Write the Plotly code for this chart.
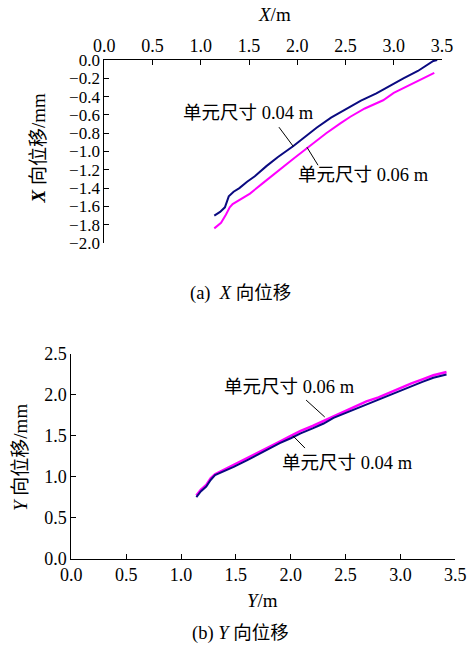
import plotly.graph_objects as go

# ---- data: (a) X displacement ----
ax_x_004 = [1.14, 1.20, 1.25, 1.27, 1.29, 1.34, 1.40, 1.48, 1.56, 1.68, 1.80, 1.96, 2.08, 2.20, 2.35, 2.51, 2.66, 2.82, 2.96, 3.10, 3.25, 3.41, 3.45]
ax_y_004 = [-1.70, -1.66, -1.61, -1.56, -1.49, -1.44, -1.40, -1.33, -1.27, -1.16, -1.06, -0.94, -0.84, -0.74, -0.63, -0.53, -0.445, -0.365, -0.28, -0.20, -0.12, -0.01, 0.0]
ax_x_006 = [1.14, 1.21, 1.26, 1.30, 1.33, 1.40, 1.51, 1.65, 1.79, 1.96, 2.13, 2.30, 2.45, 2.55, 2.70, 2.89, 3.00, 3.13, 3.28, 3.42]
ax_y_006 = [-1.84, -1.78, -1.69, -1.61, -1.575, -1.53, -1.46, -1.34, -1.22, -1.08, -0.94, -0.80, -0.69, -0.62, -0.53, -0.44, -0.36, -0.29, -0.21, -0.14]

# ---- data: (b) Y displacement ----
by_x = [1.14, 1.18, 1.23, 1.27, 1.31, 1.40, 1.48, 1.60, 1.70, 1.78, 1.90, 2.00, 2.09, 2.20, 2.30, 2.39, 2.50, 2.60, 2.69, 2.80, 2.90, 3.00, 3.10, 3.20, 3.30, 3.42]
by_y_004 = [0.75, 0.82, 0.88, 0.96, 1.02, 1.07, 1.12, 1.20, 1.27, 1.33, 1.41, 1.47, 1.53, 1.59, 1.65, 1.72, 1.78, 1.84, 1.89, 1.95, 2.00, 2.05, 2.11, 2.16, 2.21, 2.25]
by_y_006 = [0.77, 0.84, 0.90, 0.98, 1.03, 1.09, 1.14, 1.22, 1.29, 1.35, 1.43, 1.50, 1.56, 1.62, 1.68, 1.74, 1.80, 1.86, 1.92, 1.97, 2.03, 2.08, 2.14, 2.19, 2.24, 2.28]

x_ticks = [0.0, 0.5, 1.0, 1.5, 2.0, 2.5, 3.0, 3.5]
ya_ticks = [0.0, -0.2, -0.4, -0.6, -0.8, -1.0, -1.2, -1.4, -1.6, -1.8, -2.0]
yb_ticks = [0.0, 0.5, 1.0, 1.5, 2.0, 2.5]

label_004 = "单元尺寸 0.04 m"
label_006 = "单元尺寸 0.06 m"

BLUE = "#0a0a80"
MAG = "#ff00ff"
FONT = "'Liberation Serif', 'Times New Roman', 'Noto Sans CJK SC', serif"

fig = go.Figure()
fig.add_trace(go.Scatter(x=ax_x_004, y=ax_y_004, mode="lines", line=dict(color=BLUE, width=2),
                         xaxis="x", yaxis="y", showlegend=False))
fig.add_trace(go.Scatter(x=ax_x_006, y=ax_y_006, mode="lines", line=dict(color=MAG, width=2),
                         xaxis="x", yaxis="y", showlegend=False))
fig.add_trace(go.Scatter(x=by_x, y=by_y_006, mode="lines", line=dict(color=MAG, width=2.5),
                         xaxis="x2", yaxis="y2", showlegend=False))
fig.add_trace(go.Scatter(x=by_x, y=by_y_004, mode="lines", line=dict(color=BLUE, width=2),
                         xaxis="x2", yaxis="y2", showlegend=False))

W, H = 469, 648
def axis_style(size):
    return dict(showline=True, linecolor="black", linewidth=1, ticks="inside", ticklen=5,
                tickcolor="black", showgrid=False, zeroline=False, automargin=False,
                tickfont=dict(family=FONT, size=size, color="black"), tickformat=".1f")

fig.update_layout(
    template="none",
    width=W, height=H, margin=dict(l=0, r=0, t=0, b=0, pad=0),
    paper_bgcolor="white", plot_bgcolor="white",
    font=dict(family=FONT, color="black"),
    xaxis=dict(domain=[104.3 / W, 442 / W], range=[0, 3.5], side="top", anchor="y",
               tickvals=x_ticks, **axis_style(18)),
    yaxis=dict(domain=[1 - 243 / H, 1 - 60 / H], range=[-2.0, 0], anchor="x",
               tickvals=ya_ticks, **axis_style(17)),
    xaxis2=dict(domain=[71.3 / W, 455.3 / W], range=[0, 3.5], anchor="y2",
                tickvals=x_ticks, **axis_style(18)),
    yaxis2=dict(domain=[1 - 558.5 / H, 1 - 354 / H], range=[0, 2.5], anchor="x2",
                tickvals=yb_ticks, **axis_style(18)),
)

ann = []
def add_text(text, x, y, xref, yref, size=18.5, angle=0):
    ann.append(dict(text=text, x=x, y=y, xref=xref, yref=yref, showarrow=False,
                    font=dict(family=FONT, size=size, color="black"), textangle=angle,
                    xanchor="center", yanchor="middle"))

# axis titles & captions (paper coords)
add_text("<i>X</i>/m", 274 / W, 1 - 15 / H, "paper", "paper", size=19)
add_text("<b><i>X</i></b> 向位移/mm", 37.5 / W, 1 - 149 / H, "paper", "paper", size=19, angle=-90)
add_text("<i>Y</i>/m", 262 / W, 1 - 600 / H, "paper", "paper", size=19)
add_text("<i>Y</i> 向位移/mm", 20 / W, 1 - 458 / H, "paper", "paper", size=19, angle=-90)
add_text("(a)  <i>X</i> 向位移", 240 / W, 1 - 293 / H, "paper", "paper", size=18.5)
add_text("(b) <i>Y</i> 向位移", 241 / W, 1 - 633 / H, "paper", "paper", size=18.5)

# curve labels (data coords)
add_text(label_004, 1.497, -0.58, "x", "y")
add_text(label_006, 2.69, -1.26, "x", "y")
add_text(label_006, 1.99, 2.10, "x2", "y2")
add_text(label_004, 2.52, 1.17, "x2", "y2")
fig.update_layout(annotations=ann)

# leader lines
leaders = [
    ("x", "y", 1.81, -0.734, 1.957, -0.942),
    ("x", "y", 2.10, -0.953, 2.215, -1.15),
    ("x2", "y2", 2.14, 1.937, 2.31, 1.73),
    ("x2", "y2", 2.02, 1.50, 2.13, 1.35),
]
for xr, yr, x0, y0, x1, y1 in leaders:
    fig.add_shape(type="line", xref=xr, yref=yr, x0=x0, y0=y0, x1=x1, y1=y1,
                  line=dict(color="black", width=1))

fig.write_html("out.html", config={"displayModeBar": False},
               post_script="document.body.style.margin='0';document.body.style.overflow='hidden';")
